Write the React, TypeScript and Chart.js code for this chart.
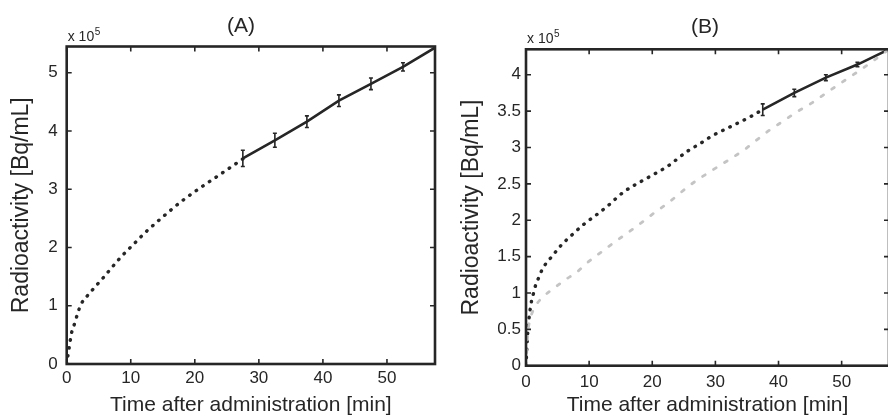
import React, { useEffect, useRef } from "react";
import { Chart, registerables } from "chart.js";

Chart.register(...registerables);

// ---------- Data (radioactivity in units of 10^5 Bq/mL, time in min) ----------
// Panel A
const timeA_model = [0, 0.2, 0.5, 0.75, 1.25, 1.8, 2.3, 3.3, 4.4, 5.7, 7.0, 8.5, 10.4, 12.2, 14, 15.8, 17.9, 20.8, 23.9, 27.5];
const valueA_model = [0, 0.15, 0.36, 0.53, 0.7, 0.9, 1.04, 1.18, 1.32, 1.48, 1.65, 1.84, 2.05, 2.25, 2.43, 2.6, 2.79, 3.02, 3.25, 3.52];
const timeA_meas = [27.5, 32.5, 37.5, 42.5, 47.5, 52.5, 57.5];
const valueA_meas = [3.53, 3.84, 4.16, 4.52, 4.81, 5.1, 5.43];
const errA_meas = [0.14, 0.12, 0.1, 0.1, 0.1, 0.07, 0];

// Panel B
const timeB_model = [0, 0.1, 0.2, 0.37, 0.64, 0.9, 1.17, 1.43, 1.96, 2.5, 3.2, 4.1, 5.4, 7.3, 9.1, 11.25, 12.85, 15.5, 19.2, 22.4, 25.6, 27.7, 29.3, 32.5, 35.7, 37.5];
const valueB_model = [0, 0.17, 0.35, 0.56, 0.76, 0.9, 0.99, 1.08, 1.2, 1.31, 1.41, 1.5, 1.64, 1.8, 1.94, 2.08, 2.19, 2.39, 2.58, 2.74, 2.95, 3.06, 3.15, 3.29, 3.43, 3.52];
const timeB_meas = [37.5, 42.5, 47.5, 52.5, 57.5];
const valueB_meas = [3.52, 3.75, 3.96, 4.14, 4.35];
const errB_meas = [0.08, 0.05, 0.04, 0.03, 0];
const timeB_alt = [0, 0.3, 0.7, 1.43, 2.5, 4.35, 6.2, 8.1, 9.9, 12.05, 14.2, 16.0, 18.2, 20.3, 22.4, 26.1, 30.1, 32.5, 34.6, 36.5, 38.6, 40.7, 43.1, 44.7, 48.4, 50.8, 53.2, 57.5];
const valueB_alt = [0, 0.45, 0.65, 0.81, 0.93, 1.06, 1.18, 1.29, 1.43, 1.57, 1.71, 1.82, 1.96, 2.1, 2.23, 2.49, 2.72, 2.85, 2.97, 3.1, 3.24, 3.36, 3.5, 3.58, 3.8, 3.94, 4.08, 4.35];

const xTickStep = 10;
const yTickStepA = 1;
const yTickStepB = 0.5;
const xMax = 57.5;
const yMaxA = 5.45;
const yMaxB = 4.35;

const FONT = '"Liberation Sans", Arial, Helvetica, sans-serif';
const INK = "#262626";

const zip = (xs: number[], ys: number[]) => xs.map((x, i) => ({ x, y: ys[i] }));

const framePlugin = {
  id: "frame",
  afterDatasetsDraw(chart: any, _args: any, opts: any) {
    const { ctx, chartArea: a, scales } = chart;
    const xs = scales.x;
    const ys = scales.y;
    ctx.save();
    // error bars
    ctx.strokeStyle = INK;
    ctx.lineWidth = 1.6;
    (opts.err || []).forEach((e: { x: number; y: number; e: number }) => {
      if (!e.e) return;
      const px = xs.getPixelForValue(e.x);
      const p1 = ys.getPixelForValue(e.y - e.e);
      const p2 = ys.getPixelForValue(e.y + e.e);
      ctx.beginPath();
      ctx.moveTo(px, p1);
      ctx.lineTo(px, p2);
      ctx.moveTo(px - 2, p1);
      ctx.lineTo(px + 2, p1);
      ctx.moveTo(px - 2, p2);
      ctx.lineTo(px + 2, p2);
      ctx.stroke();
    });
    // box
    ctx.lineWidth = 2.6;
    ctx.strokeStyle = INK;
    ctx.strokeRect(a.left, a.top, a.right - a.left, a.bottom - a.top);
    // inward ticks
    ctx.lineWidth = 1.6;
    ctx.beginPath();
    xs.ticks.forEach((t: any) => {
      const px = xs.getPixelForValue(t.value);
      ctx.moveTo(px, a.bottom);
      ctx.lineTo(px, a.bottom - 5);
      ctx.moveTo(px, a.top);
      ctx.lineTo(px, a.top + 5);
    });
    ys.ticks.forEach((t: any) => {
      const py = ys.getPixelForValue(t.value);
      ctx.moveTo(a.left, py);
      ctx.lineTo(a.left + 5, py);
      ctx.moveTo(a.right, py);
      ctx.lineTo(a.right - 5, py);
    });
    ctx.stroke();
    // multiplier
    ctx.fillStyle = INK;
    ctx.textAlign = "left";
    ctx.textBaseline = "alphabetic";
    ctx.font = `14px ${FONT}`;
    const base = "x 10";
    const bx = a.left + 1;
    const by = a.top - 6;
    ctx.fillText(base, bx, by);
    const w = ctx.measureText(base).width;
    ctx.font = `10px ${FONT}`;
    ctx.fillText("5", bx + w + 0.5, by - 6);
    // title
    ctx.font = `21px ${FONT}`;
    ctx.textAlign = "center";
    ctx.textBaseline = "middle";
    ctx.fillText(opts.title, opts.titleX, opts.titleY);
    ctx.restore();
  },
};

type PanelProps = {
  left: number;
  width: number;
  datasets: any[];
  yMax: number;
  yStep: number;
  padTop: number;
  padRight: number;
  yWidth: number;
  xHeight: number;
  yTickPad: number;
  yTitlePad: number;
  xTickPad: number;
  title: string;
  titleX: number;
  titleY: number;
  err: { x: number; y: number; e: number }[];
};

const fmt = (v: number | string) => String(+Number(v).toFixed(2));

function Panel(p: PanelProps) {
  const ref = useRef<HTMLCanvasElement | null>(null);
  useEffect(() => {
    if (!ref.current) return;
    const chart = new Chart(ref.current, {
      type: "line",
      data: { datasets: p.datasets },
      options: {
        responsive: false,
        animation: false,
        events: [],
        layout: { padding: { top: p.padTop, right: p.padRight, left: 0, bottom: 0 } },
        plugins: {
          legend: { display: false },
          tooltip: { enabled: false },
          frame: { title: p.title, titleX: p.titleX, titleY: p.titleY, err: p.err },
        } as any,
        scales: {
          x: {
            type: "linear",
            min: 0,
            max: xMax,
            grid: { display: false, drawTicks: false, tickLength: 0 },
            border: { display: false },
            ticks: {
              stepSize: xTickStep,
              includeBounds: false,
              autoSkip: false,
              maxRotation: 0,
              padding: p.xTickPad,
              color: INK,
              font: { family: FONT, size: 17 },
              callback: fmt,
            },
            title: {
              display: true,
              text: "Time after administration [min]",
              color: INK,
              font: { family: FONT, size: 21 },
              padding: { top: 0, bottom: 0 },
            },
            afterFit: (s: any) => {
              s.height = p.xHeight;
            },
          },
          y: {
            type: "linear",
            min: 0,
            max: p.yMax,
            grid: { display: false, drawTicks: false, tickLength: 0 },
            border: { display: false },
            ticks: {
              stepSize: p.yStep,
              includeBounds: false,
              autoSkip: false,
              padding: p.yTickPad,
              color: INK,
              font: { family: FONT, size: 17 },
              callback: fmt,
            },
            title: {
              display: true,
              text: "Radioactivity [Bq/mL]",
              color: INK,
              font: { family: FONT, size: 23 },
              padding: { top: p.yTitlePad, bottom: 0 },
            },
            afterFit: (s: any) => {
              s.width = p.yWidth;
            },
          },
        },
      } as any,
      plugins: [framePlugin],
    });
    return () => chart.destroy();
  }, []);
  return (
    <canvas
      ref={ref}
      width={p.width}
      height={418}
      style={{ position: "absolute", left: p.left, top: 0, width: p.width, height: 418, display: "block" }}
    />
  );
}

const dotted = (data: any[], color: string, width: number, dash: number[]) => ({
  data,
  borderColor: color,
  borderWidth: width,
  borderDash: dash,
  borderCapStyle: "round",
  pointRadius: 0,
  fill: false,
  cubicInterpolationMode: "monotone",
});

const solid = (data: any[]) => ({
  data,
  borderColor: INK,
  borderWidth: 2.6,
  pointRadius: 0,
  fill: false,
  tension: 0,
});

export default function App() {
  const dsA = [
    dotted(zip(timeA_model, valueA_model), INK, 3.4, [0.5, 7.5]),
    solid(zip(timeA_meas, valueA_meas)),
  ];
  const dsB = [
    dotted(zip(timeB_alt, valueB_alt), "#c4c4c4", 2.8, [3, 10]),
    dotted(zip(timeB_model, valueB_model), INK, 3.4, [0.5, 7.5]),
    solid(zip(timeB_meas, valueB_meas)),
  ];
  const errA = timeA_meas.map((x, i) => ({ x, y: valueA_meas[i], e: errA_meas[i] }));
  const errB = timeB_meas.map((x, i) => ({ x, y: valueB_meas[i], e: errB_meas[i] }));
  return (
    <div style={{ position: "fixed", left: 0, top: 0, width: 888, height: 418, overflow: "hidden", background: "#fff" }}>
      <Panel
        left={0}
        width={444}
        datasets={dsA}
        yMax={yMaxA}
        yStep={yTickStepA}
        padTop={46.5}
        padRight={9}
        yWidth={66.7}
        xHeight={54}
        yTickPad={9}
        yTitlePad={8}
        xTickPad={4}
        title="(A)"
        titleX={241}
        titleY={26}
        err={errA}
      />
      <Panel
        left={444}
        width={446}
        datasets={dsB}
        yMax={yMaxB}
        yStep={yTickStepB}
        padTop={49.3}
        padRight={1}
        yWidth={82}
        xHeight={52.3}
        yTickPad={5}
        yTitlePad={14}
        xTickPad={6}
        title="(B)"
        titleX={261}
        titleY={27.5}
        err={errB}
      />
    </div>
  );
}
